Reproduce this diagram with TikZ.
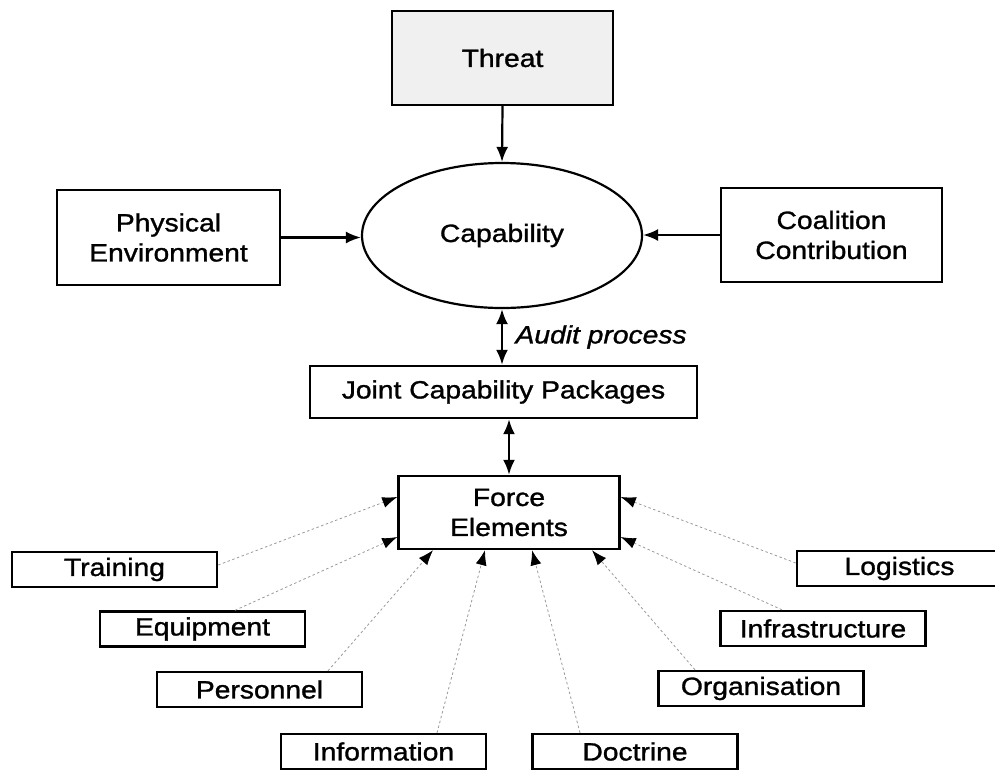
\documentclass[tikz,border=0pt]{standalone}
\usepackage{fontspec}
\setmainfont{Liberation Sans}[FakeStretch=1.13,FakeBold=1.2]
\usetikzlibrary{arrows.meta,shapes.geometric}
\begin{document}
\begin{tikzpicture}[x=1pt,y=-1pt,
  every node/.style={font=\fontsize{25}{30}\selectfont},
  box/.style={draw,line width=2.4pt,align=center,inner sep=0pt},
  bigbox/.style={box,minimum width=221pt,minimum height=94pt},
  smallbox/.style={box,minimum width=205pt,minimum height=35pt},
  solidarrow/.style={line width=2.2pt,-{Latex[length=15pt,width=12pt]}},
  dblarrow/.style={line width=2.4pt,{Latex[length=15pt,width=12pt]}-{Latex[length=15pt,width=12pt]}},
  dotarrow/.style={draw=gray!80,line width=0.8pt,dash pattern=on 2.5pt off 2.5pt,
    -{Latex[length=15pt,width=11pt,color=black]}}
]
\useasboundingbox (0,0) rectangle (995,769);

% upper level
\node[bigbox,fill=gray!12] (threat) at (502.5,58) {Threat};
\node[draw,line width=2.2pt,ellipse,minimum width=280pt,minimum height=145pt,inner sep=0pt] (cap) at (502,235.5) {Capability};
\node[bigbox,minimum width=223pt,minimum height=95pt] (phys) at (168.5,237.5) {Physical\\Environment};
\node[bigbox] (coal) at (831.5,235) {Coalition\\Contribution};
\node[box,minimum width=387pt,minimum height=52pt] (jcp) at (503.5,392) {Joint Capability Packages};
\node[box,minimum width=221pt,minimum height=73pt] (fe) at (509,512.5) {Force\\Elements};

% contributing elements
\node[smallbox] (training) at (114.5,569.5) {Training};
\node[smallbox] (equipment) at (202.5,629) {Equipment};
\node[smallbox] (personnel) at (259.5,689.5) {Personnel};
\node[smallbox] (information) at (383.5,751.5) {Information};
\node[smallbox] (doctrine) at (635,751.5) {Doctrine};
\node[smallbox] (organisation) at (761,688.5) {Organisation};
\node[smallbox] (infra) at (823,628.5) {Infrastructure};
\node[smallbox] (logistics) at (899.5,568.5) {Logistics};

% solid connectors
\draw[solidarrow] (threat.south) -- (cap.north);
\draw[solidarrow] (phys.east) -- (phys.east -| cap.west);
\draw[solidarrow] (coal.west) -- (coal.west -| cap.east);
\draw[dblarrow] (cap.south) -- (cap.south |- jcp.north)
  node[midway,anchor=west,xshift=9pt,font=\fontsize{25}{30}\selectfont\itshape] {Audit process};
\draw[dblarrow] (fe.north |- jcp.south) -- (fe.north);

% dotted connectors into the force elements
\draw[dotarrow] (training.east |- 0,565) -- (fe.west |- 0,497);
\draw[dotarrow] (equipment.north -| 235,0) -- (fe.west |- 0,537);
\draw[dotarrow] (personnel.north -| 328,0) -- (fe.south -| 433,0);
\draw[dotarrow] (information.north -| 437,0) -- (fe.south -| 485,0);
\draw[dotarrow] (doctrine.north -| 580,0) -- (fe.south -| 532,0);
\draw[dotarrow] (organisation.north -| 695,0) -- (fe.south -| 592,0);
\draw[dotarrow] (infra.north -| 782,0) -- (fe.east |- 0,537);
\draw[dotarrow] (logistics.west |- 0,563) -- (fe.east |- 0,497);
\end{tikzpicture}
\end{document}
